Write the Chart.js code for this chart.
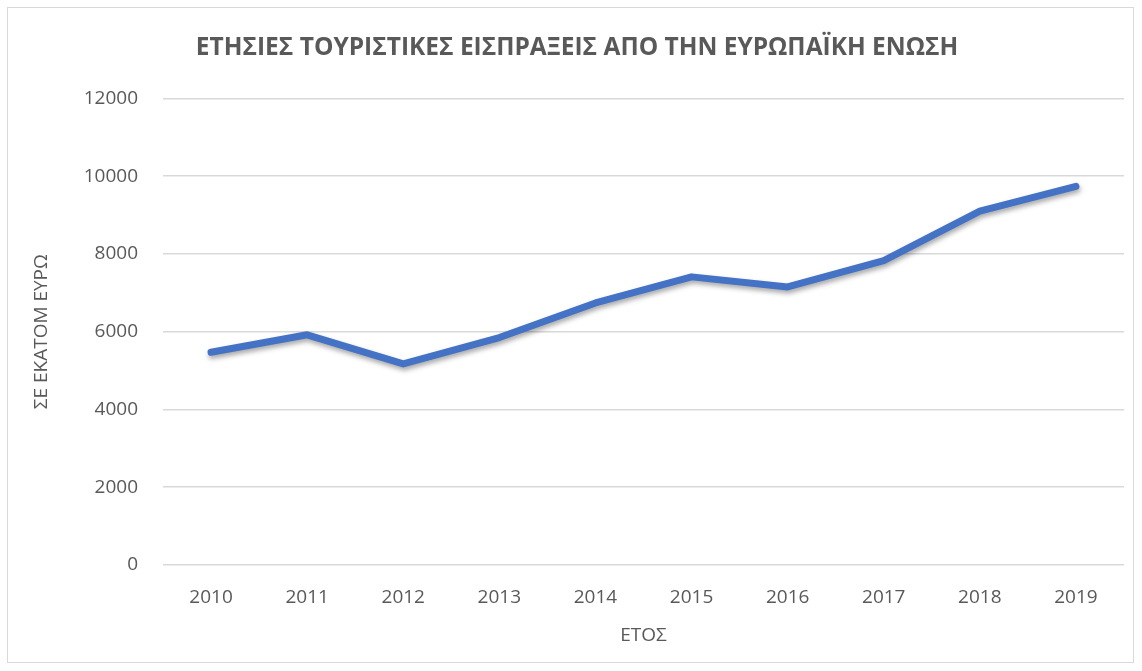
<!DOCTYPE html>
<html>
<head>
<meta charset="utf-8">
<script src="https://cdn.jsdelivr.net/npm/chart.js@4/dist/chart.umd.min.js"></script>
<style>
    html, body { margin: 0; padding: 0; background: #fff; }
    #wrap {
        position: absolute;
        left: 7px;
        top: 7px;
        width: 1127px;
        height: 656px;
        border: 1px solid #d9d9d9;
        box-sizing: border-box;
    }
</style>
</head>
<body>
<div id="wrap"><canvas id="chart"></canvas></div>
<script>
// Chart data
const years = ['2010', '2011', '2012', '2013', '2014', '2015', '2016', '2017', '2018', '2019'];
const receipts = [5470, 5920, 5170, 5850, 6740, 7410, 7150, 7830, 9100, 9740];
const yTicks = [0, 2000, 4000, 6000, 8000, 10000, 12000];

const TEXT_COLOR = '#595959';
const FONT = '"Open Sans", sans-serif';

// Soft shadow under the line, like the original
const lineShadow = {
    id: 'lineShadow',
    beforeDatasetsDraw(chart) {
        const ctx = chart.ctx;
        ctx.save();
        ctx.shadowColor = 'rgba(0, 0, 0, 0.35)';
        ctx.shadowBlur = 5;
        ctx.shadowOffsetX = 1;
        ctx.shadowOffsetY = 3;
    },
    afterDatasetsDraw(chart) {
        chart.ctx.restore();
    }
};

const ctx = document.getElementById('chart').getContext('2d');

new Chart(ctx, {
    type: 'line',
    data: {
        labels: years,
        datasets: [{
            label: 'Εισπράξεις',
            data: receipts,
            borderColor: '#4472C4',
            borderWidth: 7,
            borderCapStyle: 'round',
            borderJoinStyle: 'round',
            pointRadius: 0,
            tension: 0,
            fill: false
        }]
    },
    options: {
        responsive: true,
        maintainAspectRatio: false,
        animation: false,
        layout: {
            padding: { left: 22, right: 9, top: 0, bottom: 0 }
        },
        plugins: {
            legend: { display: false },
            tooltip: { enabled: false },
            title: {
                display: true,
                text: 'ΕΤΗΣΙΕΣ ΤΟΥΡΙΣΤΙΚΕΣ ΕΙΣΠΡΑΞΕΙΣ ΑΠΟ ΤΗΝ ΕΥΡΩΠΑΪΚΗ ΕΝΩΣΗ',
                color: TEXT_COLOR,
                font: { family: FONT, size: 24.5, weight: 'bold' },
                padding: { top: 25, bottom: 36 }
            }
        },
        scales: {
            x: {
                offset: true,
                grid: { display: false },
                border: { display: false },
                ticks: {
                    color: TEXT_COLOR,
                    font: { family: FONT, size: 19 },
                    padding: 13,
                    maxRotation: 0
                },
                title: {
                    display: true,
                    text: 'ΕΤΟΣ',
                    color: TEXT_COLOR,
                    font: { family: FONT, size: 19 },
                    padding: { top: 4, bottom: 15 }
                },
                afterFit: (scale) => { scale.height = 97; }
            },
            y: {
                min: 0,
                max: 12000,
                afterBuildTicks: (scale) => {
                    scale.ticks = yTicks.map(v => ({ value: v }));
                },
                grid: {
                    color: '#d9d9d9',
                    lineWidth: 1.5,
                    drawTicks: false
                },
                border: { display: false },
                ticks: {
                    color: TEXT_COLOR,
                    font: { family: FONT, size: 19 },
                    padding: 25,
                    callback: (value) => String(value)
                },
                title: {
                    display: true,
                    text: 'ΣΕ ΕΚΑΤΟΜ ΕΥΡΩ',
                    color: TEXT_COLOR,
                    font: { family: FONT, size: 19 },
                    padding: { top: 0, bottom: 0 }
                },
                afterFit: (scale) => { scale.width = 133; }
            }
        }
    },
    plugins: [lineShadow]
});
</script>
</body>
</html>
